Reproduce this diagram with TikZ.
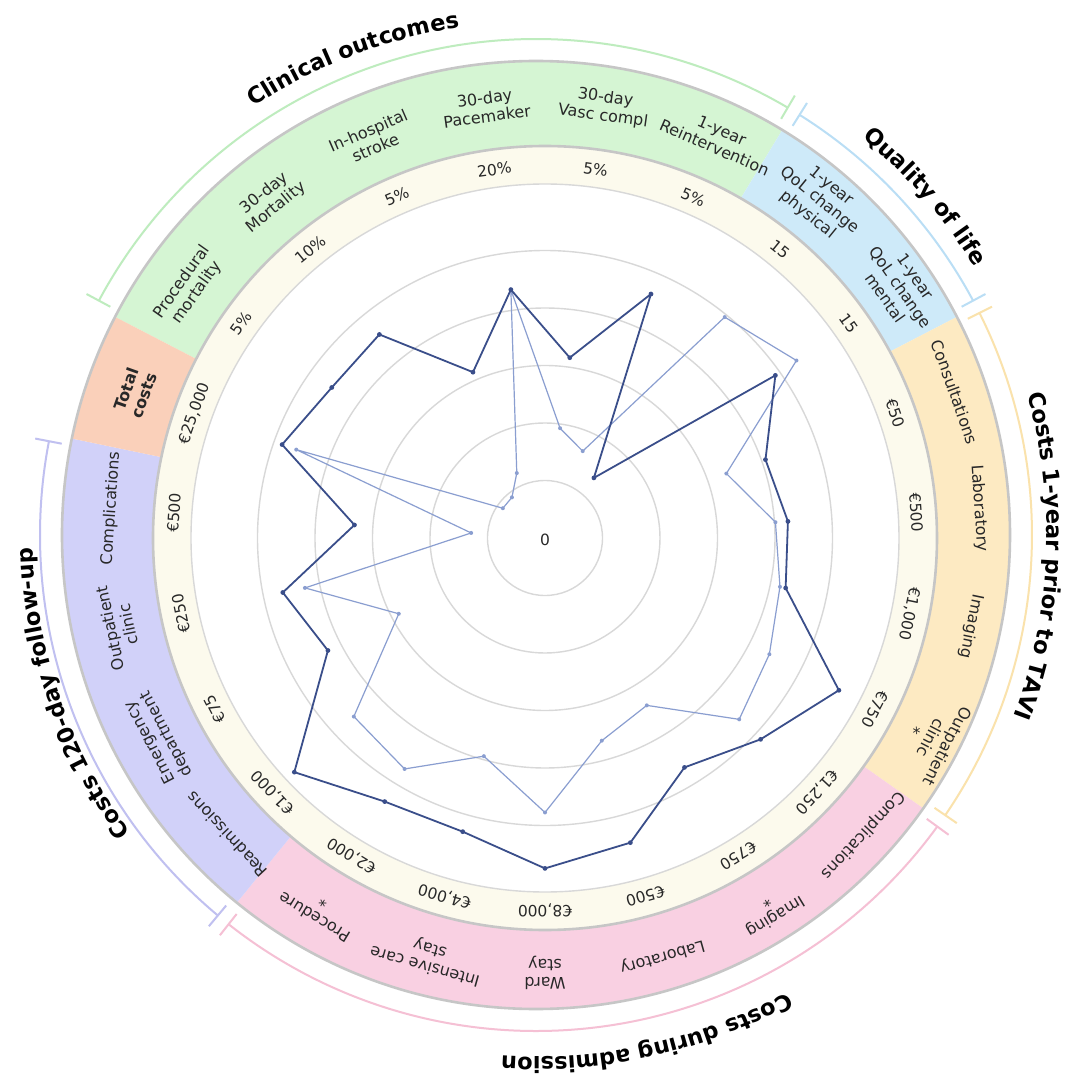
\documentclass[tikz,border=0pt]{standalone}
\usepackage{fontspec}
\setmainfont{DejaVu Sans}
\usetikzlibrary{decorations.text}

% band, bracket and series colours
\definecolor{clinGreen}{RGB}{213,245,211}
\definecolor{qolBlue}{RGB}{206,234,249}
\definecolor{preOrange}{RGB}{253,234,194}
\definecolor{admPink}{RGB}{249,208,226}
\definecolor{fupPurple}{RGB}{209,209,249}
\definecolor{totSalmon}{RGB}{250,208,186}
\definecolor{scaleCream}{RGB}{252,250,237}
\definecolor{clinBrk}{RGB}{190,236,190}
\definecolor{qolBrk}{RGB}{186,222,245}
\definecolor{preBrk}{RGB}{250,226,172}
\definecolor{admBrk}{RGB}{245,192,212}
\definecolor{fupBrk}{RGB}{192,192,240}
\definecolor{edgeGray}{RGB}{198,198,198}
\definecolor{gridGray}{RGB}{216,216,216}
\definecolor{labelInk}{RGB}{40,40,40}
\definecolor{darkSeries}{RGB}{58,78,138}
\definecolor{lightSeries}{RGB}{138,158,208}

\newcommand\grouptitlefont{\bfseries\fontsize{22.5}{24}\selectfont}

\tikzset{every picture/.style={line width=0.75pt}}
\tikzset{
  bandedge/.style={draw=edgeGray, line width=2.6pt},
  gridring/.style={draw=gridGray, line width=1.4pt},
  catlabel/.style={align=center, inner sep=0pt, text=labelInk, font=\fontsize{16}{18.5}\selectfont},
  vallabel/.style={inner sep=0pt, text=labelInk, font=\fontsize{15.5}{17}\selectfont},
  darkline/.style={draw=darkSeries, line width=1.8pt, line join=round},
  lightline/.style={draw=lightSeries, line width=1.2pt, line join=round},
  bracket/.style={line width=2pt},
  grouptitle/.style={decorate, decoration={text along path, text align=center, text={|\grouptitlefont|#1}}}
}

\begin{document}
\begin{tikzpicture}[x=1pt,y=1pt]
	% frame of the figure, radar centre at the origin
	\useasboundingbox (-545,-541) rectangle (529,538);
	\fill[white] (-545,-541) rectangle (529,538);
	\coordinate (O) at (0,0);
	\coordinate (Q) at (-9,3);

	% coloured category band
	\fill[clinGreen] (Q) -- ++(152.609:474) arc[start angle=152.609, end angle=58.696, radius=474] -- cycle;
	\fill[qolBlue] (Q) -- ++(58.696:474) arc[start angle=58.696, end angle=27.391, radius=474] -- cycle;
	\fill[preOrange] (Q) -- ++(27.391:474) arc[start angle=27.391, end angle=-35.217, radius=474] -- cycle;
	\fill[admPink] (Q) -- ++(-35.217:474) arc[start angle=-35.217, end angle=-129.130, radius=474] -- cycle;
	\fill[fupPurple] (Q) -- ++(-129.130:474) arc[start angle=-129.130, end angle=-191.739, radius=474] -- cycle;
	\fill[totSalmon] (Q) -- ++(168.261:474) arc[start angle=168.261, end angle=152.609, radius=474] -- cycle;

	% scale band and radar grid
	\fill[scaleCream] (O) circle[radius=392];
	\draw[bandedge] (Q) circle[radius=474];
	\draw[bandedge] (O) circle[radius=392];
	\fill[white] (O) circle[radius=354];
	\draw[gridring] (O) circle[radius=354];
	\foreach \k in {1,...,5}
		\draw[gridring] (O) circle[radius=57.5*\k];

	% light series
	\foreach \i/\r in {0/250.7,1/110.8,2/94.7,3/284.8,4/307.8,5/192.5,6/231,7/240,8/252.7,9/265.7,10/195.9,11/210.5,
		12/274.5,13/226.6,14/270.3,15/261.6,16/164.7,17/245.2,18/74,19/264,20/51.6,21/52.4,22/70.8} {
		\pgfmathsetmacro\ang{97.826-15.652*\i}
		\coordinate (lt\i) at (\ang:\r);
	}
	\draw[lightline] (lt0) \foreach \i in {1,...,22}{ -- (lt\i)} -- cycle;
	\foreach \i in {0,...,22}
		\fill[lightSeries] (lt\i) circle[radius=2];

	% dark series
	\foreach \i/\r in {0/250.7,1/182,2/266,3/77.5,4/282,5/234,6/243.5,7/245.8,8/331,9/295,10/268.5,11/316.4,
		12/330.4,13/305,14/308.5,15/343,16/244.5,17/267.8,18/191,19/279,20/261,21/262.4,22/180.8} {
		\pgfmathsetmacro\ang{97.826-15.652*\i}
		\coordinate (dk\i) at (\ang:\r);
	}
	\draw[darkline] (dk0) \foreach \i in {1,...,22}{ -- (dk\i)} -- cycle;
	\foreach \i in {0,...,22}
		\fill[darkSeries] (dk\i) circle[radius=2.4];

	% Text Node
	\node[vallabel] (zero) at (0,-2) {0};

	% category names
	\foreach \i/\lab in {0/{30-day\\Pacemaker}, 1/{30-day\\Vasc compl}, 2/{1-year\\Reintervention},
		3/{1-year\\QoL change\\physical}, 4/{1-year\\QoL change\\mental}, 5/{Consultations}, 6/{Laboratory},
		7/{Imaging}, 8/{Outpatient\\clinic\\*}, 9/{Complications}, 10/{Imaging\\*}, 11/{Laboratory},
		12/{Ward\\stay}, 13/{Intensive care\\stay}, 14/{Procedure\\*}, 15/{Readmissions},
		16/{Emergency\\department}, 17/{Outpatient\\clinic}, 18/{Complications},
		19/{\textbf{Total}\\\textbf{costs}}, 20/{Procedural\\mortality}, 21/{30-day\\Mortality},
		22/{In-hospital\\stroke}} {
		\pgfmathsetmacro\ang{97.826-15.652*\i}
		\pgfmathsetmacro\rot{\ang-90}
		\node[catlabel, rotate=\rot] (cat\i) at (\ang:435) {\lab};
	}

	% scale values
	\foreach \i/\val in {0/20\%, 1/5\%, 2/5\%, 3/15, 4/15, 5/€50, 6/€500, 7/{€1,000}, 8/€750, 9/{€1,250},
		10/€750, 11/€500, 12/{€8,000}, 13/{€4,000}, 14/{€2,000}, 15/{€1,000}, 16/€75, 17/€250, 18/€500,
		19/{€25,000}, 20/5\%, 21/10\%, 22/5\%} {
		\pgfmathsetmacro\ang{97.826-15.652*\i}
		\pgfmathsetmacro\rot{\ang-90}
		\node[vallabel, rotate=\rot] (val\i) at (\ang:372) {\val};
	}

	% group brackets
	\foreach \sa/\ea/\col in {151.8/59.5/clinBrk, 57.9/28.2/qolBrk, 26.6/-34.4/preBrk,
		-36.0/-128.3/admBrk, -129.9/-190.9/fupBrk} {
		\draw[bracket, \col, shift={(Q)}] (\sa:496) arc[start angle=\sa, end angle=\ea, radius=496];
		\draw[bracket, \col, shift={(Q)}] (\sa:483) -- (\sa:510);
		\draw[bracket, \col, shift={(Q)}] (\ea:483) -- (\ea:510);
	}

	% group titles
	\path[grouptitle={Clinical outcomes}, shift={(Q)}] (151:513) arc[start angle=151, end angle=71, radius=513];
	\path[grouptitle={Quality of life}, shift={(Q)}] (81:514) arc[start angle=81, end angle=1, radius=514];
	\path[grouptitle={Costs 1-year prior to TAVI}, shift={(Q)}] (37.6:511) arc[start angle=37.6, end angle=-42.4, radius=511];
	\path[grouptitle={Costs during admission}, shift={(Q)}] (-37.5:522) arc[start angle=-37.5, end angle=-117.5, radius=522];
	\path[grouptitle={Costs 120-day follow-up}, shift={(Q)}] (-121.1:503) arc[start angle=-121.1, end angle=-201.1, radius=503];
\end{tikzpicture}
\end{document}
